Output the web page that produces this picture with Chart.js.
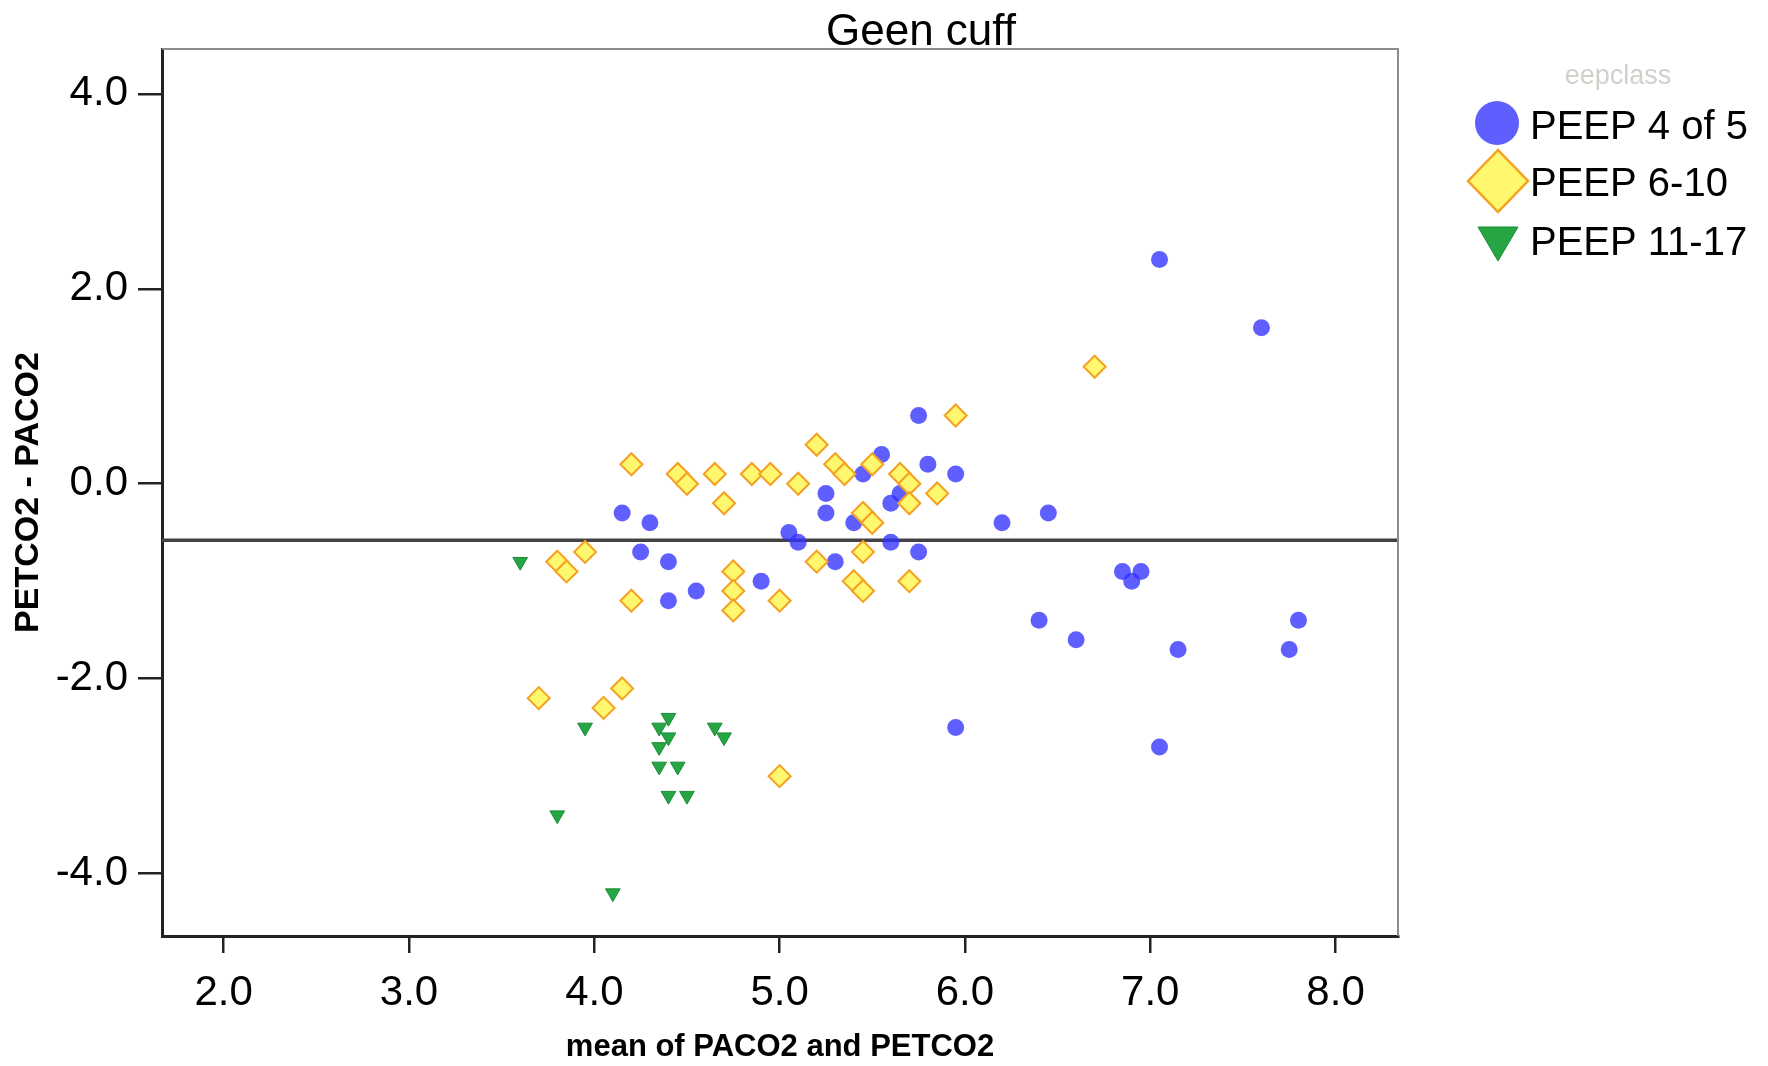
<!DOCTYPE html>
<html>
<head>
<meta charset="utf-8">
<title>Geen cuff</title>
<script src="https://cdn.jsdelivr.net/npm/chart.js@4.4.0/dist/chart.umd.min.js"></script>
<style>
	body { margin: 0; background: #fff; }
	canvas { display: block; }
</style>
</head>
<body>
<canvas id="blandAltman" width="1768" height="1066"></canvas>
<script>
// Values
const chartTitle = 'Geen cuff';
const legendTitle = 'eepclass';
const groupLabels = ['PEEP 4 of 5', 'PEEP 6-10', 'PEEP 11-17'];

const xTicks = [2, 3, 4, 5, 6, 7, 8];
const yTicks = [-4, -2, 0, 2, 4];
const xRange = [1.667, 8.337];
const yRange = [-4.64, 4.46];

// mean difference line
const meanDiff = -0.58;

// PEEP 4 of 5
const peep45X = [4.15, 4.3, 4.25, 4.4, 4.55, 4.4, 4.9, 5.05, 5.1, 5.25, 5.25, 5.3, 5.4, 5.45, 5.55, 5.6, 5.65, 5.6,
	5.75, 5.75, 5.8, 5.95, 6.2, 6.45, 5.95, 6.4, 6.6, 6.85, 6.95, 6.9, 7.15, 7.05, 7.8, 7.75, 7.05, 7.6];
const peep45Y = [-0.3, -0.4, -0.7, -0.8, -1.1, -1.2, -1.0, -0.5, -0.6, -0.1, -0.3, -0.8, -0.4, 0.1, 0.3, -0.2, -0.1, -0.6,
	-0.7, 0.7, 0.2, 0.1, -0.4, -0.3, -2.5, -1.4, -1.6, -0.9, -0.9, -1.0, -1.7, -2.7, -1.4, -1.7, 2.3, 1.6];

// PEEP 6-10
const peep610X = [3.7, 4.05, 4.15, 3.8, 3.85, 3.95, 4.2, 4.2, 4.45, 4.5, 4.65, 4.7, 4.75, 4.75, 4.75, 4.85, 4.95, 5.0,
	5.0, 5.1, 5.2, 5.2, 5.3, 5.35, 5.4, 5.45, 5.45, 5.45, 5.5, 5.5, 5.65, 5.7, 5.7, 5.7, 5.85, 5.95, 6.7];
const peep610Y = [-2.2, -2.3, -2.1, -0.8, -0.9, -0.7, -1.2, 0.2, 0.1, 0.0, 0.1, -0.2, -0.9, -1.1, -1.3, 0.1, 0.1, -1.2,
	-3.0, 0.0, 0.4, -0.8, 0.2, 0.1, -1.0, -1.1, -0.7, -0.3, -0.4, 0.2, 0.1, 0.0, -0.2, -1.0, -0.1, 0.7, 1.2];

// PEEP 11-17
const peep1117X = [3.6, 3.95, 4.4, 4.35, 4.4, 4.35, 4.65, 4.7, 4.35, 4.45, 4.4, 4.5, 3.8, 4.1];
const peep1117Y = [-0.8, -2.5, -2.4, -2.5, -2.6, -2.7, -2.5, -2.6, -2.9, -2.9, -3.2, -3.2, -3.4, -4.2];

const FONT = "'Liberation Sans', Arial, sans-serif";
const BLUE = 'rgba(50, 50, 255, 0.78)';
const YELLOW = '#fff76e';
const ORANGE = '#f5a021';
const GREEN = '#25a543';
const GREEN_EDGE = '#1b8c37';

function toPoints(xs, ys) {
	return xs.map((x, i) => ({ x: x, y: ys[i] }));
}

// Title, legend and the thin top/right frame
const decorPlugin = {
	id: 'decor',
	afterDraw(chart) {
		const ctx = chart.ctx;
		const a = chart.chartArea;
		ctx.save();

		ctx.strokeStyle = '#8c8c8c';
		ctx.lineWidth = 2;
		ctx.beginPath();
		ctx.moveTo(a.left, a.top);
		ctx.lineTo(a.right, a.top);
		ctx.lineTo(a.right, a.bottom);
		ctx.stroke();

		ctx.fillStyle = '#000';
		ctx.textAlign = 'center';
		ctx.textBaseline = 'alphabetic';
		ctx.font = '44px ' + FONT;
		ctx.fillText(chartTitle, 921, 45);

		ctx.fillStyle = '#d3cfca';
		ctx.font = '27px ' + FONT;
		ctx.fillText(legendTitle, 1618, 84);

		// legend markers
		ctx.fillStyle = BLUE;
		ctx.beginPath();
		ctx.arc(1497, 123, 22, 0, Math.PI * 2);
		ctx.fill();

		ctx.fillStyle = YELLOW;
		ctx.strokeStyle = ORANGE;
		ctx.lineWidth = 2.5;
		ctx.beginPath();
		ctx.moveTo(1468, 181);
		ctx.lineTo(1498, 150);
		ctx.lineTo(1528, 181);
		ctx.lineTo(1498, 212);
		ctx.closePath();
		ctx.fill();
		ctx.stroke();

		ctx.fillStyle = GREEN;
		ctx.strokeStyle = GREEN_EDGE;
		ctx.lineWidth = 1;
		ctx.beginPath();
		ctx.moveTo(1478, 227);
		ctx.lineTo(1518, 227);
		ctx.lineTo(1498, 261);
		ctx.closePath();
		ctx.fill();
		ctx.stroke();

		ctx.fillStyle = '#000';
		ctx.textAlign = 'left';
		ctx.font = '40px ' + FONT;
		ctx.fillText(groupLabels[0], 1530, 139);
		ctx.fillText(groupLabels[1], 1530, 196);
		ctx.fillText(groupLabels[2], 1530, 255);

		ctx.restore();
	},
};

function renderChart() {
	const canvas = document.getElementById('blandAltman');
	const ctx = canvas.getContext('2d');

	new Chart(ctx, {
		type: 'scatter',
		data: {
			datasets: [
				{
					label: groupLabels[2],
					data: toPoints(peep1117X, peep1117Y),
					pointStyle: 'triangle',
					rotation: 180,
					pointRadius: 8.5,
					backgroundColor: GREEN,
					borderColor: GREEN_EDGE,
					borderWidth: 1,
				},
				{
					label: groupLabels[1],
					data: toPoints(peep610X, peep610Y),
					pointStyle: 'rectRot',
					pointRadius: 11,
					backgroundColor: YELLOW,
					borderColor: ORANGE,
					borderWidth: 2,
				},
				{
					label: groupLabels[0],
					data: toPoints(peep45X, peep45Y),
					pointStyle: 'circle',
					pointRadius: 8.5,
					backgroundColor: BLUE,
					borderWidth: 0,
				},
				{
					type: 'line',
					label: 'mean',
					data: [
						{ x: xRange[0], y: meanDiff },
						{ x: xRange[1], y: meanDiff },
					],
					borderColor: '#424242',
					borderWidth: 3.5,
					pointRadius: 0,
					fill: false,
				},
			],
		},
		options: {
			responsive: false,
			animation: false,
			devicePixelRatio: 1,
			layout: {
				padding: { top: 49, right: 370, bottom: 0, left: 0 },
			},
			plugins: {
				legend: { display: false },
				tooltip: { enabled: false },
				title: { display: false },
			},
			scales: {
				x: {
					type: 'linear',
					min: xRange[0],
					max: xRange[1],
					afterBuildTicks: (scale) => {
						scale.ticks = xTicks.map((v) => ({ value: v }));
					},
					afterFit: (scale) => {
						scale.height = 130;
					},
					ticks: {
						callback: (v) => Number(v).toFixed(1),
						color: '#000',
						padding: 15,
						maxRotation: 0,
						font: { family: FONT, size: 42 },
					},
					grid: {
						drawOnChartArea: false,
						drawTicks: true,
						tickLength: 17,
						color: '#222',
						lineWidth: 2.5,
					},
					border: { display: true, color: '#222', width: 3 },
					title: {
						display: true,
						text: 'mean of PACO2 and PETCO2',
						color: '#000',
						font: { family: FONT, size: 31, weight: 'bold' },
						padding: { top: 0, bottom: 0 },
					},
				},
				y: {
					type: 'linear',
					min: yRange[0],
					max: yRange[1],
					afterBuildTicks: (scale) => {
						scale.ticks = yTicks.map((v) => ({ value: v }));
					},
					afterFit: (scale) => {
						scale.width = 162;
					},
					ticks: {
						callback: (v) => Number(v).toFixed(1),
						color: '#000',
						padding: 10,
						font: { family: FONT, size: 42 },
					},
					grid: {
						drawOnChartArea: false,
						drawTicks: true,
						tickLength: 24,
						color: '#222',
						lineWidth: 2.5,
					},
					border: { display: true, color: '#222', width: 3 },
					title: {
						display: true,
						text: 'PETCO2 - PACO2',
						color: '#000',
						font: { family: FONT, size: 34, weight: 'bold' },
						padding: { top: 8, bottom: 0 },
					},
				},
			},
		},
		plugins: [decorPlugin],
	});
}

document.addEventListener('DOMContentLoaded', renderChart);
</script>
</body>
</html>
